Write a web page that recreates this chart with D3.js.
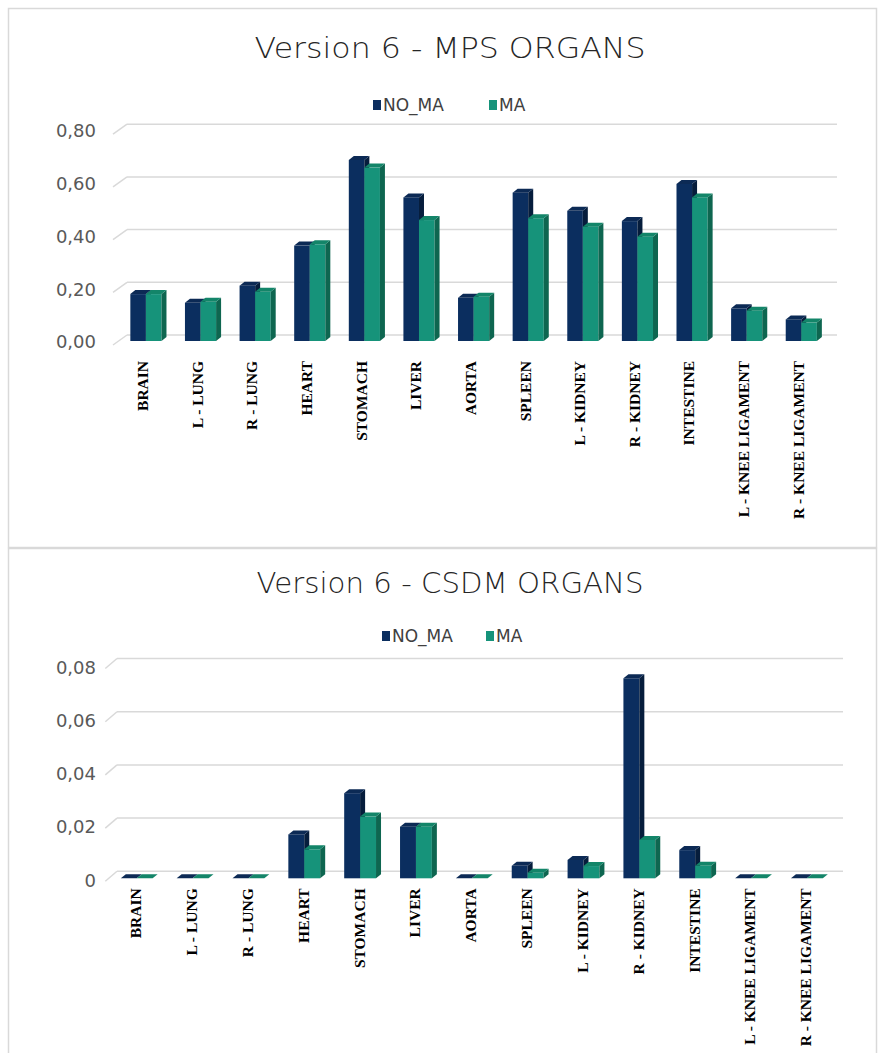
<!DOCTYPE html>
<html><head><meta charset="utf-8">
<script src="https://cdn.jsdelivr.net/npm/d3@7"></script>
<style>
html,body{margin:0;padding:0;background:#fff;}
svg{display:block;}
</style></head>
<body>
<svg id="chart" width="880" height="1053"></svg>
<script>
const categories = ["BRAIN","L - LUNG","R - LUNG","HEART","STOMACH","LIVER","AORTA","SPLEEN","L - KIDNEY","R - KIDNEY","INTESTINE","L - KNEE LIGAMENT","R - KNEE LIGAMENT"];
const seriesNames = ["NO_MA","MA"];
const mpsNoMA = [0.178,0.145,0.210,0.362,0.687,0.545,0.164,0.563,0.494,0.455,0.596,0.124,0.082];
const mpsMA   = [0.178,0.149,0.187,0.367,0.658,0.459,0.168,0.466,0.434,0.396,0.545,0.115,0.070];
const csdmNoMA = [0,0,0,0.0165,0.0320,0.0194,0,0.0047,0.0069,0.0752,0.0106,0,0];
const csdmMA   = [0,0,0,0.0109,0.0232,0.0194,0,0.0021,0.0046,0.0144,0.0047,0,0];
const mpsTicks = [0,0.2,0.4,0.6,0.8];
const mpsTickLabels = ["0,00","0,20","0,40","0,60","0,80"];
const csdmTicks = [0,0.02,0.04,0.06,0.08];
const csdmTickLabels = ["0","0,02","0,04","0,06","0,08"];

const colors = {
  NO_MA: {front:"#0b2e5f", top:"#0c2a55", side:"#061d3c"},
  MA:    {front:"#16937a", top:"#138569", side:"#0e6650"}
};

const svg = d3.select("#chart");
svg.append("rect").attr("width",880).attr("height",1053).attr("fill","#fff");

// frames
svg.append("rect").attr("x",8.5).attr("y",8.5).attr("width",868).attr("height",539)
  .attr("fill","none").attr("stroke","#d9d9d9").attr("stroke-width",1.5);
svg.append("rect").attr("x",8.5).attr("y",548.5).attr("width",868).attr("height",520)
  .attr("fill","none").attr("stroke","#d9d9d9").attr("stroke-width",1.5);

function drawChart(cfg){
  const g = svg.append("g");
  const x = d3.scaleBand().domain(categories).range([cfg.x0, cfg.x1]).paddingInner(0.43).paddingOuter(0.215);
  const xs = d3.scaleBand().domain(seriesNames).range([0, x.bandwidth()]);
  const y = d3.scaleLinear().domain([0, cfg.max]).range([cfg.base, cfg.top]);

  // title
  g.append("text").attr("x",450).attr("y",cfg.titleY).attr("text-anchor","middle")
    .attr("font-family","'Century Gothic','DejaVu Sans',sans-serif").attr("font-weight",300)
    .attr("font-size",29).attr("fill","#262626")
    .attr("textLength",cfg.titleLen).attr("lengthAdjust","spacingAndGlyphs")
    .text(cfg.title);

  // legend
  const lg = g.append("g");
  cfg.legendX.forEach((lx,i)=>{
    lg.append("rect").attr("x",lx).attr("y",cfg.legendY-5).attr("width",8).attr("height",10)
      .attr("fill",colors[seriesNames[i]].front);
    lg.append("text").attr("x",lx+10).attr("y",cfg.legendY).attr("dy","0.36em")
      .attr("font-family","'Century Gothic','DejaVu Sans',sans-serif").attr("font-size",17)
      .attr("fill","#404040").text(seriesNames[i]);
  });

  // gridlines (back wall) + left wall diagonals
  const grid = g.append("g");
  cfg.ticks.forEach(t=>{
    const yb = y(t) - cfg.bdy;
    grid.append("line").attr("x1",cfg.x0+cfg.bdx).attr("x2",cfg.x1+cfg.bdx)
      .attr("y1",yb).attr("y2",yb).attr("stroke","#d9d9d9").attr("stroke-width",1.5);
    grid.append("line").attr("x1",cfg.x0-cfg.fdx).attr("y1",y(t)+cfg.fdy)
      .attr("x2",cfg.x0+cfg.bdx).attr("y2",yb).attr("stroke","#d9d9d9").attr("stroke-width",1.5);
  });

  // y axis labels (front plane)
  const yAxis = d3.axisLeft(y).tickValues(cfg.ticks)
    .tickFormat((d,i)=>cfg.tickLabels[i]).tickSize(0).tickPadding(0);
  const ya = g.append("g").attr("transform",`translate(${cfg.yLabelX},${cfg.fdy + cfg.yLabelShift})`).call(yAxis);
  ya.select(".domain").remove();
  ya.selectAll("text").attr("font-family","'Century Gothic','DejaVu Sans',sans-serif")
    .attr("font-size",18).attr("fill","#595959");

  // bars
  const dx = 5, dy = 4;
  const bars = g.append("g");
  categories.forEach((c,ci)=>{
    seriesNames.forEach((s,si)=>{
      const v = cfg.data[si][ci];
      const bx = x(c) + xs(s), w = xs.bandwidth();
      const yt = y(v), yb = y(0);
      const col = colors[s];
      if (yb - yt > 0.01) {
        bars.append("rect").attr("x",bx).attr("y",yt).attr("width",w).attr("height",yb-yt).attr("fill",col.front);
        bars.append("path").attr("d",`M${bx+w},${yt}L${bx+w+dx},${yt-dy}L${bx+w+dx},${yb-dy}L${bx+w},${yb}Z`).attr("fill",col.side);
      }
      bars.append("path").attr("d",`M${bx},${yt}L${bx+dx},${yt-dy}L${bx+w+dx},${yt-dy}L${bx+w},${yt}Z`).attr("fill",col.top);
    });
  });

  // x axis labels
  const xAxis = d3.axisBottom(x).tickSize(0);
  const xa = g.append("g").attr("transform",`translate(${-cfg.fdx+dx/2},${cfg.base})`).call(xAxis);
  xa.select(".domain").remove();
  xa.selectAll("text").attr("transform","rotate(-90)").attr("x",-cfg.xLabelGap).attr("y",0)
    .attr("dy","0.35em").attr("text-anchor","end")
    .attr("font-family","'Liberation Serif','Times New Roman',serif").attr("font-weight","bold")
    .attr("font-size",15.5).attr("fill","#000");
}

drawChart({
  title:"Version 6 - MPS ORGANS", titleY:58, titleLen:391,
  legendY:105, legendX:[373,489],
  x0:118.6, x1:828.6, base:341, top:130.2, max:0.8,
  bdx:8.4, bdy:6, fdx:5.6, fdy:4,
  ticks:mpsTicks, tickLabels:mpsTickLabels, yLabelX:96, yLabelShift:-3,
  data:[mpsNoMA, mpsMA], xLabelGap:20
});

drawChart({
  title:"Version 6 - CSDM ORGANS", titleY:593, titleLen:387,
  legendY:636, legendX:[382,486],
  x0:108.8, x1:834.8, base:878.3, top:665.5, max:0.08,
  bdx:8.2, bdy:7, fdx:3.5, fdy:3,
  ticks:csdmTicks, tickLabels:csdmTickLabels, yLabelX:96, yLabelShift:-1,
  data:[csdmNoMA, csdmMA], xLabelGap:10
});
</script>
</body></html>
